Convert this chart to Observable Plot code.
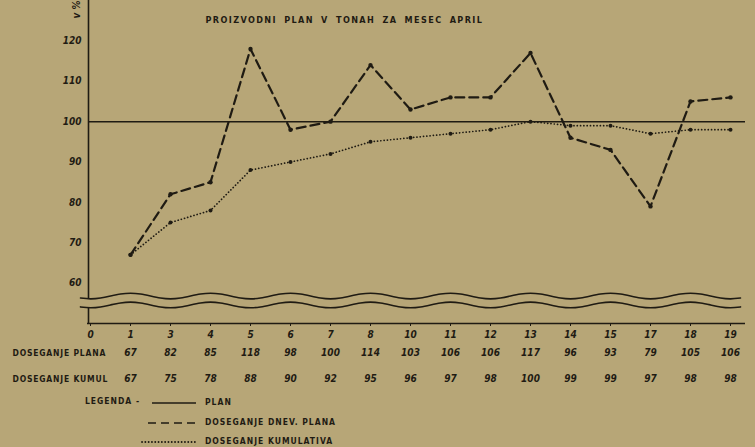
<!DOCTYPE html>
<html>
<head>
<meta charset="utf-8">
<script src="https://cdn.jsdelivr.net/npm/d3@7"></script>
<script src="https://cdn.jsdelivr.net/npm/@observablehq/plot@0.6"></script>
<style>
  html, body { margin: 0; padding: 0; background: #b7a677; }
  #wrap { position: relative; width: 755px; height: 447px; overflow: hidden;
          font-family: "DejaVu Sans Condensed", "DejaVu Sans", sans-serif; color: #1f1b13; }
  #legend { position: absolute; left: 0; top: 390px; width: 755px; height: 57px; }
  .lg { position: absolute; font-size: 8.5px; font-weight: bold; letter-spacing: 1px; white-space: nowrap; }
</style>
</head>
<body>
<div id="wrap">
  <div id="chart"></div>
  <div id="legend"></div>
</div>
<script>
// ---- data ----
const dayLabels = ["0", "1", "3", "4", "5", "6", "7", "8", "10", "11", "12", "13", "14", "15", "17", "18", "19"];
const planDays  = ["1", "3", "4", "5", "6", "7", "8", "10", "11", "12", "13", "14", "15", "17", "18", "19"];
const dailyPlan = [67, 82, 85, 118, 98, 100, 114, 103, 106, 106, 117, 96, 93, 79, 105, 106];
const cumulative = [67, 75, 78, 88, 90, 92, 95, 96, 97, 98, 100, 99, 99, 97, 98, 98];
const planLevel = 100;
const yTicks = [60, 70, 80, 90, 100, 110, 120];
const title = "PROIZVODNI PLAN V TONAH ZA MESEC APRIL";
const rowLabels = ["DOSEGANJE PLANA", "DOSEGANJE KUMUL"];
const legendItems = ["PLAN", "DOSEGANJE DNEV. PLANA", "DOSEGANJE KUMULATIVA"];

// ---- tables for the library ----
const ink = "#1f1b13";
const paper = "#b7a677";
const rows = planDays.map((d, i) => ({
  i: dayLabels.indexOf(d), day: d, plan: dailyPlan[i], kumul: cumulative[i]
}));
// decorative axis-break band (wavy double line)
const wave = d3.range(-0.25, 16.5, 0.25).map(i => {
  const w = 0.7 * Math.cos(Math.PI * (i - 1));
  return { i, hi: 56.8 + w, lo: 54.6 + w };
});

const font = { fontFamily: "DejaVu Sans Condensed, DejaVu Sans, sans-serif", fontWeight: "bold" };

const chart = Plot.plot({
  width: 755,
  height: 390,
  marginLeft: 90,
  marginRight: 25,
  marginTop: 0,
  marginBottom: 67,
  x: { domain: [0, dayLabels.length - 1], axis: null },
  y: { domain: [50, 130], axis: null },
  style: { background: "transparent", color: ink, fontFamily: font.fontFamily },
  marks: [
    // y axis line
    Plot.ruleX([0], { dx: -2, y1: 50, y2: 130, stroke: ink, strokeWidth: 1.6 }),
    // axis break band
    Plot.areaY(wave, { x: "i", y1: "lo", y2: "hi", fill: paper }),
    Plot.line(wave, { x: "i", y: "hi", stroke: ink, strokeWidth: 1.6, curve: "natural" }),
    Plot.line(wave, { x: "i", y: "lo", stroke: ink, strokeWidth: 1.6, curve: "natural" }),
    // x axis line
    Plot.ruleY([50], { insetLeft: -3, insetRight: -15, stroke: ink, strokeWidth: 1.7 }),
    // plan line
    Plot.ruleY([planLevel], { insetLeft: -2, insetRight: -15, stroke: ink, strokeWidth: 1.5 }),
    // y axis ticks & labels
    Plot.axisY({ ticks: yTicks, tickSize: 4, tickPadding: 3, dx: -2, fontSize: 10,
                 fontStyle: "italic", fontWeight: "bold", stroke: null, label: null }),
    Plot.text(["v %"], { frameAnchor: "top-left", dx: -18, dy: 18, rotate: -90,
                         fontSize: 10, fontStyle: "italic", fontWeight: "bold" }),
    // x axis ticks & labels
    Plot.axisX({ ticks: d3.range(dayLabels.length), tickFormat: d => dayLabels[d], tickSize: 3,
                 tickPadding: 4, fontSize: 10, fontWeight: "bold", fontStyle: "italic", label: null }),
    // title
    Plot.text([title], { frameAnchor: "top-left", dx: 115, dy: 16, textAnchor: "start",
                         fontSize: 9, fontWeight: "bold" }),
    // cumulative (dotted)
    Plot.line(rows, { x: "i", y: "kumul", stroke: ink, strokeWidth: 1.7,
                      strokeDasharray: "0.1,3.2", strokeLinecap: "round" }),
    Plot.dot(rows, { x: "i", y: "kumul", r: 2, fill: ink }),
    // daily (dashed)
    Plot.line(rows, { x: "i", y: "plan", stroke: ink, strokeWidth: 2.2,
                      strokeDasharray: "9,5" }),
    Plot.dot(rows, { x: "i", y: "plan", r: 2.2, fill: ink }),
    // table rows
    Plot.text(rows, { x: "i", text: d => String(d.plan), frameAnchor: "bottom", dy: 32,
                      fontSize: 10, fontWeight: "bold", fontStyle: "italic" }),
    Plot.text(rows, { x: "i", text: d => String(d.kumul), frameAnchor: "bottom", dy: 58,
                      fontSize: 10, fontWeight: "bold", fontStyle: "italic" }),
    Plot.text([rowLabels[0]], { frameAnchor: "bottom-left", dx: -78, dy: 32, textAnchor: "start",
                                fontSize: 8.5, fontWeight: "bold" }),
    Plot.text([rowLabels[1]], { frameAnchor: "bottom-left", dx: -78, dy: 58, textAnchor: "start",
                                fontSize: 8.5, fontWeight: "bold" })
  ]
});
// letter spacing for the hand-lettered labels
d3.select(chart).selectAll("text").each(function () {
  const t = this.textContent;
  if (t === title) { this.style.letterSpacing = "1.4px"; this.style.wordSpacing = "3px"; }
  if (rowLabels.includes(t)) { this.style.letterSpacing = "0.8px"; }
});
document.getElementById("chart").appendChild(chart);

// ---- legend (HTML below the svg) ----
const lg = document.getElementById("legend");
function add(html, left, top) {
  const d = document.createElement("div");
  d.className = "lg"; d.style.left = left + "px"; d.style.top = top + "px";
  d.innerHTML = html; lg.appendChild(d);
}
add("LEGENDA -", 85, 6);
const dashes = ["", "8,5", "0.1,3.2"];
legendItems.forEach((t, k) => {
  const y = 13 + k * 19.5;
  const s = document.createElementNS("http://www.w3.org/2000/svg", "svg");
  s.setAttribute("width", 60); s.setAttribute("height", 8);
  s.style.position = "absolute"; s.style.left = "140px"; s.style.top = (y - 4) + "px";
  const l = document.createElementNS("http://www.w3.org/2000/svg", "line");
  l.setAttribute("x1", k === 0 ? 12 : (k === 1 ? 8 : 2)); l.setAttribute("x2", 56);
  l.setAttribute("y1", 4); l.setAttribute("y2", 4);
  l.setAttribute("stroke", ink); l.setAttribute("stroke-width", k === 2 ? 1.8 : 1.6);
  if (dashes[k]) l.setAttribute("stroke-dasharray", dashes[k]);
  l.setAttribute("stroke-linecap", k === 2 ? "round" : "butt");
  s.appendChild(l); lg.appendChild(s);
  add(t, 205, y - 6);
});
</script>
</body>
</html>
